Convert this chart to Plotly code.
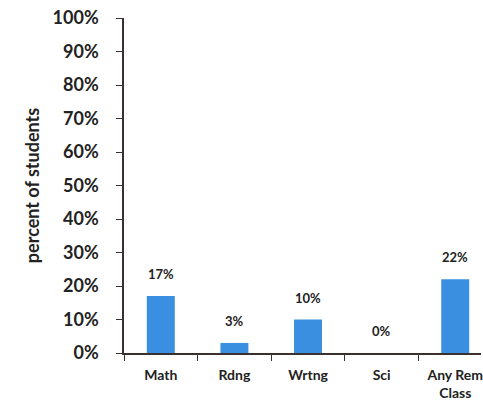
import plotly.graph_objects as go

categories = ["Math", "Rdng", "Wrtng", "Sci", "Any Rem<br>Class"]
values = [0.17, 0.03, 0.10, 0.0, 0.22]
labels = ["17%", "3%", "10%", "0%", "22%"]
y_ticks = [0, 0.1, 0.2, 0.3, 0.4, 0.5, 0.6, 0.7, 0.8, 0.9, 1.0]
y_tick_labels = ["0%", "10%", "20%", "30%", "40%", "50%", "60%", "70%", "80%", "90%", "100%"]

FONT = "Lato"

fig = go.Figure()
fig.add_trace(go.Bar(
    x=categories, y=values, width=0.38,
    marker=dict(color="#3b8fe0", line=dict(width=0)),
    hoverinfo="skip",
))

for c, v, t in zip(categories, values, labels):
    fig.add_annotation(x=c, y=v, text=t, showarrow=False, yanchor="middle", yshift=22,
                       font=dict(family=FONT, size=13, color="#222", weight="bold"))

fig.update_layout(
    width=483, height=408,
    margin=dict(l=124, r=0, t=18, b=55),
    paper_bgcolor="white", plot_bgcolor="white",
    showlegend=False,
    font=dict(family=FONT, color="#222"),
    xaxis=dict(
        type="category", range=[-0.5, 4.35],
        showline=True, linecolor="#3a3030", linewidth=1.5,
        tickson="boundaries", ticks="outside", ticklen=6, tickcolor="#3a3030",
        ticklabelstandoff=8,
        showgrid=False, zeroline=False,
        tickfont=dict(family=FONT, size=14, color="#222", weight="bold"),
    ),
    yaxis=dict(
        range=[0, 1], tickvals=y_ticks, ticktext=y_tick_labels,
        showline=True, linecolor="#3a3030", linewidth=1.5,
        ticks="outside", ticklen=6, tickcolor="#3a3030",
        ticklabelstandoff=14,
        showgrid=False, zeroline=False,
        tickfont=dict(family=FONT, size=18, color="#222", weight="bold"),
        title=dict(text="percent of students", standoff=8,
                   font=dict(family=FONT, size=18, color="#222", weight="bold")),
    ),
)

fig.write_html("out.html")
